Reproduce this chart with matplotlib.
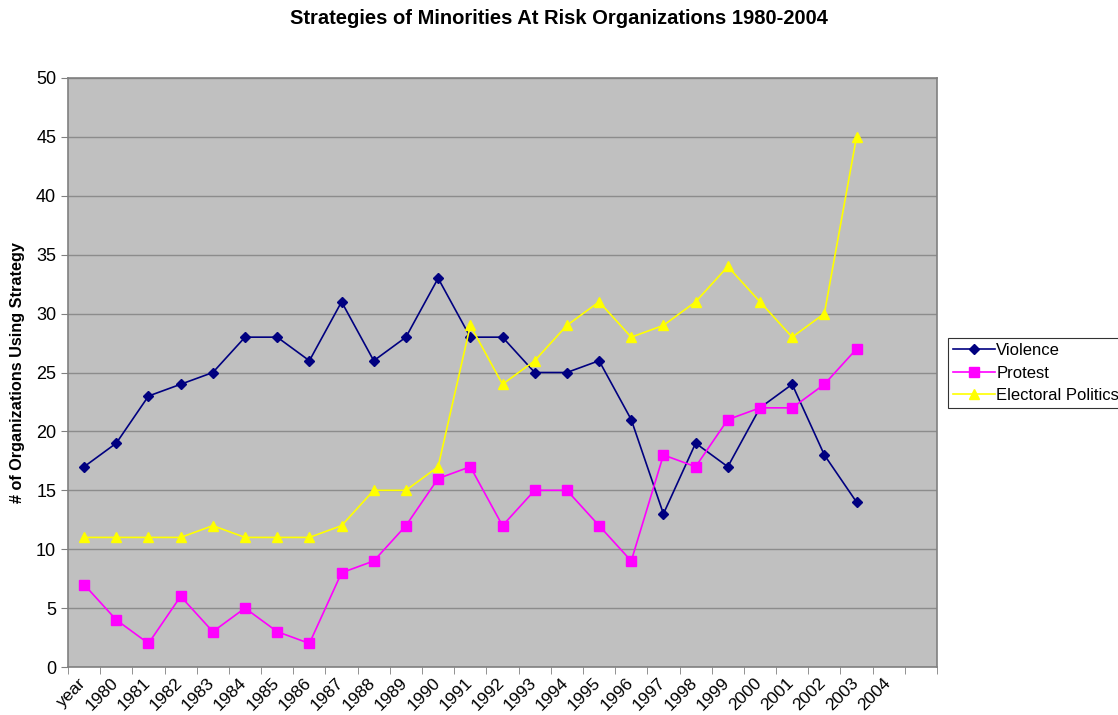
import matplotlib.pyplot as plt
import matplotlib.transforms as mtransforms
import numpy as np

plt.rcParams['font.family'] = ['Liberation Sans', 'DejaVu Sans']

categories = ['year'] + [str(y) for y in range(1980, 2005)] + ['']
violence = [17, 19, 23, 24, 25, 28, 28, 26, 31, 26, 28, 33, 28, 28, 25, 25, 26, 21, 13, 19, 17, 22, 24, 18, 14]
protest = [7, 4, 2, 6, 3, 5, 3, 2, 8, 9, 12, 16, 17, 12, 15, 15, 12, 9, 18, 17, 21, 22, 22, 24, 27]
electoral = [11, 11, 11, 11, 12, 11, 11, 11, 12, 15, 15, 17, 29, 24, 26, 29, 31, 28, 29, 31, 34, 31, 28, 30, 45]

fig = plt.figure(figsize=(11.18, 7.15), dpi=100)
ax = fig.add_axes([68/1118, 1-667/715, (937-68)/1118, (667-78)/715])
ax.set_facecolor('#c0c0c0')

x = np.arange(len(violence))
ax.plot(x, violence, color='#000080', marker='D', markersize=5.5, lw=1.2, label='Violence')
ax.plot(x, protest, color='#ff00ff', marker='s', markersize=7, lw=1.2, label='Protest')
ax.plot(x, electoral, color='#ffff00', marker='^', markersize=7, lw=1.2, label='Electoral Politics')

ax.set_xlim(-0.5, len(categories) - 0.5)
ax.set_ylim(0, 50)
ax.set_yticks(range(0, 51, 5))
ax.yaxis.grid(True, color='#8c8c8c', lw=1)
ax.set_axisbelow(True)

ax.set_xticks(np.arange(len(categories)))
ax.set_xticklabels(categories, rotation=45, ha='right', rotation_mode='anchor', fontsize=12.5)
ax.tick_params(axis='x', which='major', length=0, pad=6)
shift = mtransforms.ScaledTranslation(-6/100, 0, fig.dpi_scale_trans)
for lab in ax.get_xticklabels():
    lab.set_transform(lab.get_transform() + shift)
ax.set_xticks(np.arange(-0.5, len(categories)), minor=True)
ax.tick_params(axis='x', which='minor', length=5, color='#808080')
ax.tick_params(axis='y', length=5, color='#808080', labelsize=13)

for s in ax.spines.values():
    s.set_color('#808080')
    s.set_linewidth(1.2)

ax.set_ylabel('# of Organizations Using Strategy', fontsize=11.7, fontweight='bold', labelpad=8)
fig.suptitle('Strategies of Minorities At Risk Organizations 1980-2004', fontsize=14.5, fontweight='bold', y=0.987)

leg = ax.legend(loc='center left', bbox_to_anchor=(948/1118, 1-373/715), bbox_transform=fig.transFigure,
                frameon=True, fancybox=False, fontsize=12, handlelength=2.5, borderpad=0.3,
                labelspacing=0.45, handletextpad=0.1, borderaxespad=0)
leg.get_frame().set_edgecolor('#000000')
leg.get_frame().set_linewidth(0.8)

fig.savefig('out.png', dpi=100)
